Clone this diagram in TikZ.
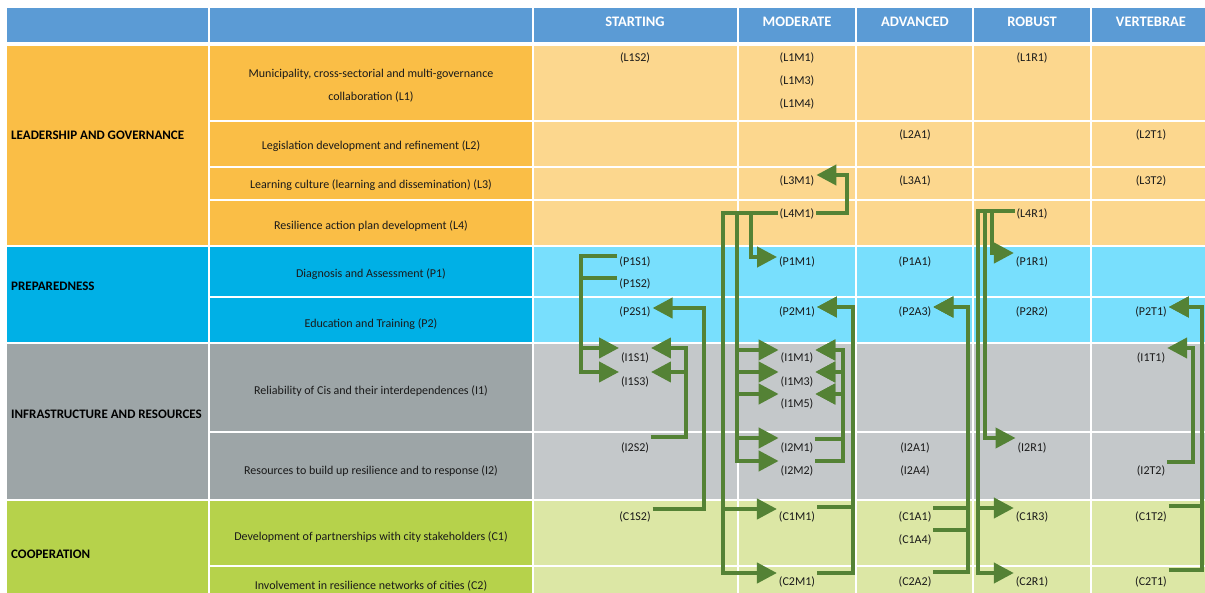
\documentclass[tikz,border=0pt]{standalone}
\usepackage{fontspec}
\setmainfont{Carlito}
\usetikzlibrary{arrows.meta}
\definecolor{hdrblue}{HTML}{5B9BD5}
\definecolor{ldark}{HTML}{FABE46}
\definecolor{llight}{HTML}{FCD78E}
\definecolor{pdark}{HTML}{00B0E6}
\definecolor{plight}{HTML}{78DFFD}
\definecolor{idark}{HTML}{9DA5A7}
\definecolor{ilight}{HTML}{C4C8CA}
\definecolor{cdark}{HTML}{B6D24B}
\definecolor{clight}{HTML}{DCE7A5}
\definecolor{flow}{HTML}{548235}
\definecolor{ink}{HTML}{1A1A1A}
\begin{document}
\begin{tikzpicture}[x=1pt,y=-1pt,
  cell/.style={draw=white,line width=1.6pt},
  hdr/.style={font=\fontsize{14.5}{16}\selectfont\bfseries, text=white, inner sep=0pt},
  grp/.style={font=\fontsize{13}{15}\selectfont\bfseries, text=black, anchor=west, inner sep=0pt, text height=9pt, text depth=0pt},
  crit/.style={font=\fontsize{12}{14}\selectfont, text=ink, inner sep=0pt, text height=12.6pt, text depth=2.6pt},
  lvl/.style={font=\fontsize{12}{14}\selectfont, text=ink, inner sep=0pt, outer sep=2pt, text height=12.6pt, text depth=2.6pt},
  link/.style={draw=flow, line width=4.2pt, line join=miter, -{Triangle[length=20pt,width=20pt]}},
]
\useasboundingbox (0,0) rectangle (1205,593);
\clip (0,0) rectangle (1205,593);
\fill[white] (0,0) rectangle (1205,593);

% header row
\foreach \xa/\xb in {6/209, 209/533, 533/738, 738/856, 856/973, 973/1091, 1091/1215}
  \draw[cell, fill=hdrblue] (\xa,7) rectangle (\xb,43);

% group column
\draw[cell, fill=ldark] (6,45) rectangle (209,246);
\draw[cell, fill=pdark] (6,246) rectangle (209,343);
\draw[cell, fill=idark] (6,343) rectangle (209,500);
\draw[cell, fill=cdark] (6,500) rectangle (209,610);

% criterion column and level cells
\foreach \ya/\yb/\dk/\lt in {45/121/ldark/llight, 121/167/ldark/llight, 167/200/ldark/llight, 200/246/ldark/llight,
    246/297/pdark/plight, 297/343/pdark/plight, 343/432/idark/ilight, 432/500/idark/ilight,
    500/566/cdark/clight, 566/610/cdark/clight} {
  \draw[cell, fill=\dk] (209,\ya) rectangle (533,\yb);
  \foreach \xa/\xb in {533/738, 738/856, 856/973, 973/1091, 1091/1215}
    \draw[cell, fill=\lt] (\xa,\ya) rectangle (\xb,\yb);
}

% header texts
\node[hdr] (hS) at (635,22) {STARTING};
\node[hdr] (hM) at (797,22) {MODERATE};
\node[hdr] (hA) at (915,22) {ADVANCED};
\node[hdr] (hR) at (1032,22) {ROBUST};
\node[hdr] (hT) at (1151,22) {VERTEBRAE};

% dimension groups
\node[grp] (gL) at (11,135) {LEADERSHIP AND GOVERNANCE};
\node[grp] (gP) at (11,286) {PREPAREDNESS};
\node[grp] (gI) at (11,414) {INFRASTRUCTURE AND RESOURCES};
\node[grp] (gC) at (11,554) {COOPERATION};

% criteria
\node[crit] (L1a) at (371,73) {Municipality, cross-sectorial and multi-governance};
\node[crit] (L1) at (371,96) {collaboration (L1)};
\node[crit] (L2) at (371,145) {Legislation development and refinement (L2)};
\node[crit] (L3) at (371,184) {Learning culture (learning and dissemination) (L3)};
\node[crit] (L4) at (371,225) {Resilience action plan development (L4)};
\node[crit] (P1) at (371,273) {Diagnosis and Assessment (P1)};
\node[crit] (P2) at (371,323) {Education and Training (P2)};
\node[crit] (I1) at (371,390) {Reliability of Cis and their interdependences (I1)};
\node[crit] (I2) at (371,469) {Resources to build up resilience and to response (I2)};
\node[crit] (C1) at (371,535) {Development of partnerships with city stakeholders (C1)};
\node[crit] (C2) at (371,584) {Involvement in resilience networks of cities (C2)};

% level codes
\foreach \n/\x/\y in {
  L1S2/635/57, P1S1/635/261, P1S2/635/283, P2S1/635/311, I1S1/635/357, I1S3/635/381, I2S2/635/447, C1S2/635/515,
  L1M1/797/57, L1M3/797/80, L1M4/797/103, L3M1/797/180, L4M1/797/213, P1M1/797/261, P2M1/797/311,
  I1M1/797/357, I1M3/797/381, I1M5/797/403, I2M1/797/446, I2M2/797/470, C1M1/797/515, C2M1/797/580,
  L2A1/915/134, L3A1/915/180, P1A1/915/261, P2A3/915/311, I2A1/915/446, I2A4/915/470, C1A1/915/515, C1A4/915/538, C2A2/915/580,
  L1R1/1032/57, L4R1/1032/213, P1R1/1032/261, P2R2/1032/311, I2R1/1032/446, C1R3/1032/515, C2R1/1032/580,
  L2T1/1151/134, L3T2/1151/180, P2T1/1151/311, I1T1/1151/357, I2T2/1151/470, C1T2/1151/515, C2T1/1151/580}
  \node[lvl] (\n) at (\x,\y) {(\n)};

% starting level links
\draw[link] ([yshift=5pt]P1S1.west) -| (581,372) -- ([yshift=9pt]I1S3.west);
\draw[link] ([yshift=5pt]P1S2.west) -| (581,348) -- ([yshift=9pt]I1S1.west);
\draw[link] ([yshift=6pt]C1S2.east) -| (704,308) -- ([yshift=3pt]P2S1.east);
\draw[link] ([yshift=10pt]I2S2.east) -| (686,348) -- ([yshift=9pt]I1S1.east);
\draw[link] ([yshift=10pt]I2S2.east) -| (686,372) -- ([yshift=9pt]I1S3.east);

% moderate level links
\draw[link] (L4M1.east) -| (847,175) -- ([yshift=5pt]L3M1.east);
\draw[link] (L4M1.west) -| (751,257) -- ([yshift=4pt]P1M1.west);
\draw[link] (L4M1.west) -| (737,350) -- ([yshift=7pt]I1M1.west);
\draw[link] (L4M1.west) -| (737,372) -- ([yshift=9pt]I1M3.west);
\draw[link] (L4M1.west) -| (737,394) -- ([yshift=9pt]I1M5.west);
\draw[link] (L4M1.west) -| (737,438) -- ([yshift=8pt]I2M1.west);
\draw[link] (L4M1.west) -| (737,461) -- ([yshift=9pt]I2M2.west);
\draw[link] (L4M1.west) -| (723,509) -- ([yshift=6pt]C1M1.west);
\draw[link] (L4M1.west) -| (723,573) -- ([yshift=7pt]C2M1.west);
\foreach \s/\ds in {I2M1/7, I2M2/9} {
  \draw[link] ([yshift=\ds pt]\s.east) -| (843,350) -- ([yshift=7pt]I1M1.east);
  \draw[link] ([yshift=\ds pt]\s.east) -| (843,372) -- ([yshift=9pt]I1M3.east);
  \draw[link] ([yshift=\ds pt]\s.east) -| (843,394) -- ([yshift=9pt]I1M5.east);
}
\draw[link] ([yshift=8pt]C1M1.east) -| (853,307) -- ([yshift=4pt]P2M1.east);
\draw[link] ([yshift=7pt]C2M1.east) -| (853,307) -- ([yshift=4pt]P2M1.east);

% advanced level links
\draw[link] ([yshift=7pt]C1A1.east) -| (968,307) -- ([yshift=4pt]P2A3.east);
\draw[link] ([yshift=8pt]C1A4.east) -| (968,307) -- ([yshift=4pt]P2A3.east);
\draw[link] ([yshift=8pt]C2A2.east) -| (968,307) -- ([yshift=4pt]P2A3.east);

% robust level links
\draw[link] ([yshift=2pt]L4R1.west) -| (992,253) -- ([yshift=8pt]P1R1.west);
\draw[link] ([yshift=2pt]L4R1.west) -| (985,438) -- ([yshift=8pt]I2R1.west);
\draw[link] ([yshift=2pt]L4R1.west) -| (978,508) -- ([yshift=7pt]C1R3.west);
\draw[link] ([yshift=2pt]L4R1.west) -| (978,573) -- ([yshift=7pt]C2R1.west);

% vertebrae level links
\draw[link] ([yshift=8pt]I2T2.east) -| (1193,348) -- ([yshift=9pt]I1T1.east);
\draw[link] ([yshift=9pt]C1T2.east) -| (1202,307) -- ([yshift=4pt]P2T1.east);
\draw[link] ([yshift=10pt]C2T1.east) -| (1202,307) -- ([yshift=4pt]P2T1.east);
\end{tikzpicture}
\end{document}
